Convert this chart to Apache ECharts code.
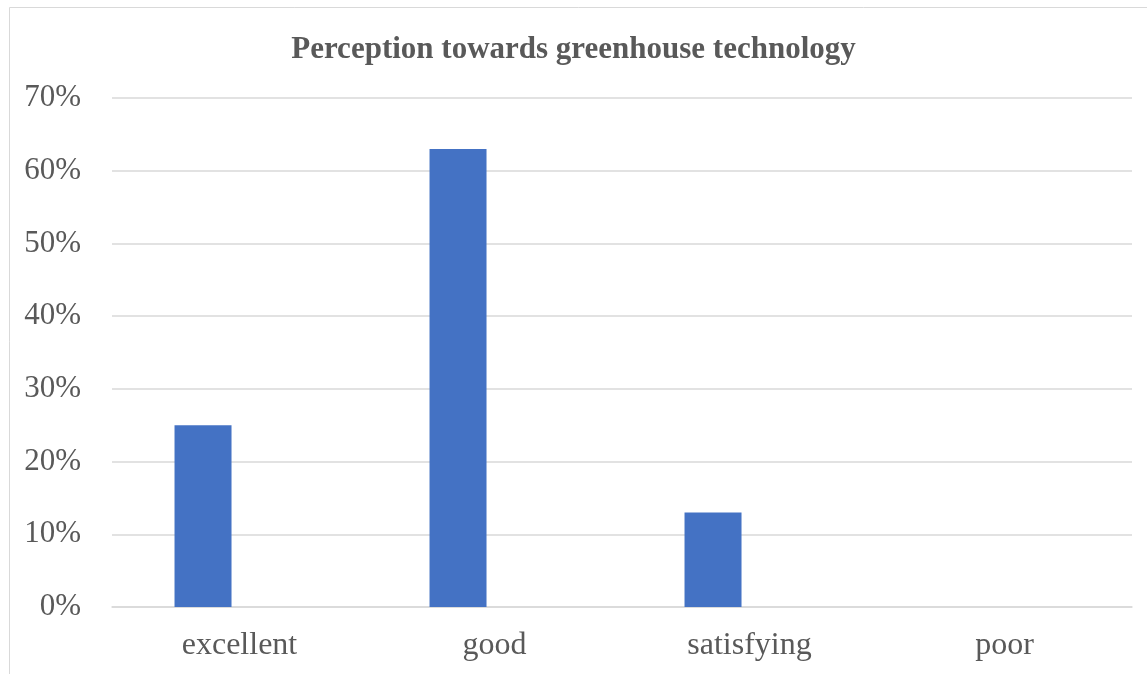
<!DOCTYPE html>
<html>
<head>
<meta charset="utf-8">
<script src="https://cdn.jsdelivr.net/npm/echarts@6/dist/echarts.min.js"></script>
<style>
  html, body { margin: 0; padding: 0; background: #fff; }
  #chart { width: 1147px; height: 674px; }
</style>
</head>
<body>
<div id="chart"></div>
<script>
// Survey answers and their shares (percent)
const categories = ['excellent', 'good', 'satisfying', 'poor'];
const shares = [25, 63, 13, 0];
const emptySeries = [null, null, null, null];
const yTicks = { min: 0, max: 70, step: 10 };

const textColor = '#595959';
const serif = '"Liberation Serif", "Times New Roman", serif';

const chart = echarts.init(document.getElementById('chart'), null, { renderer: 'canvas' });
chart.setOption({
  animation: false,
  backgroundColor: '#ffffff',
  title: {
    text: 'Perception towards greenhouse technology',
    left: 'center',
    top: 29,
    textStyle: { fontFamily: serif, fontWeight: 'bold', fontSize: 31, color: textColor }
  },
  graphic: [{
    type: 'rect',
    shape: { x: 9.5, y: 7.5, width: 1160, height: 700 },
    style: { fill: 'none', stroke: '#d9d9d9', lineWidth: 1 },
    silent: true
  }],
  grid: { left: 112, right: 15, top: 98, bottom: 67, containLabel: false },
  xAxis: {
    type: 'category',
    data: categories,
    axisLine: { show: true, lineStyle: { color: '#d9d9d9', width: 1.5 } },
    axisTick: { show: false },
    axisLabel: { fontFamily: serif, fontSize: 32, color: textColor, margin: 23 }
  },
  yAxis: {
    type: 'value',
    min: yTicks.min,
    max: yTicks.max,
    interval: yTicks.step,
    axisLine: { show: false },
    axisTick: { show: false },
    splitLine: { lineStyle: { color: '#d9d9d9', width: 1.5 } },
    axisLabel: { fontFamily: serif, fontSize: 31, color: textColor, margin: 31, formatter: '{value}%' }
  },
  series: [
    {
      type: 'bar',
      data: shares,
      barWidth: 57,
      barGap: '28%',
      itemStyle: { color: '#4472C4' }
    },
    {
      type: 'bar',
      data: emptySeries,
      barWidth: 57,
      itemStyle: { color: '#ED7D31' }
    }
  ]
});
</script>
</body>
</html>
